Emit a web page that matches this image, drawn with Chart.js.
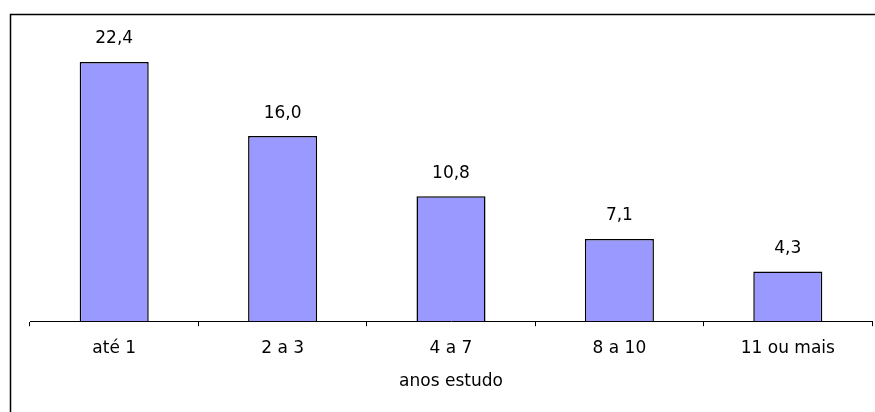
<!DOCTYPE html>
<html>
<head>
<meta charset="utf-8">
<script src="https://cdn.jsdelivr.net/npm/chart.js@4"></script>
<style>
  html, body { margin: 0; padding: 0; background: #fff; }
  #wrap { width: 875px; height: 412px; position: relative; }
</style>
</head>
<body>
<div id="wrap"><canvas id="grafico"></canvas></div>
<script>
const categorias = ["até 1", "2 a 3", "4 a 7", "8 a 10", "11 ou mais"];
const valores = [22.4, 16.0, 10.8, 7.1, 4.3];
const tituloEixo = "anos estudo";

const fonte = "'DejaVu Sans', sans-serif";

// moldura: linha superior e linha esquerda
const moldura = {
  id: "moldura",
  beforeDraw(chart) {
    const c = chart.ctx;
    c.save();
    c.strokeStyle = "#000";
    c.lineWidth = 1.5;
    c.beginPath();
    c.moveTo(10.5, chart.height);
    c.lineTo(10.5, 14.5);
    c.lineTo(chart.width, 14.5);
    c.stroke();
    c.restore();
  }
};

// valores por cima das barras, com virgula decimal
const rotulos = {
  id: "rotulos",
  afterDatasetsDraw(chart) {
    const c = chart.ctx;
    const meta = chart.getDatasetMeta(0);
    c.save();
    c.fillStyle = "#000";
    c.font = "17px " + fonte;
    c.textAlign = "center";
    c.textBaseline = "middle";
    meta.data.forEach((bar, i) => {
      const txt = valores[i].toFixed(1).replace(".", ",");
      c.fillText(txt, bar.x, bar.y - 23);
    });
    c.restore();
  }
};

new Chart(document.getElementById("grafico"), {
  type: "bar",
  data: {
    labels: categorias,
    datasets: [{
      data: valores,
      backgroundColor: "#9999ff",
      borderColor: "#000",
      borderWidth: 1.5,
      categoryPercentage: 0.41,
      barPercentage: 1
    }]
  },
  options: {
    responsive: true,
    maintainAspectRatio: false,
    animation: false,
    layout: { padding: { left: 30, right: 3, top: 32, bottom: 20 } },
    plugins: {
      legend: { display: false },
      tooltip: { enabled: false }
    },
    scales: {
      x: {
        grid: {
          offset: true,
          drawOnChartArea: false,
          drawTicks: true,
          tickLength: 5,
          color: "#000",
          lineWidth: 1
        },
        border: { display: true, color: "#000", width: 1 },
        ticks: {
          color: "#000",
          font: { family: fonte, size: 17 },
          padding: 12,
          maxRotation: 0
        },
        title: {
          display: true,
          text: tituloEixo,
          color: "#000",
          font: { family: fonte, size: 17 },
          padding: { top: 1, bottom: 0 }
        }
      },
      y: {
        display: false,
        min: 0,
        max: 25
      }
    }
  },
  plugins: [moldura, rotulos]
});
</script>
</body>
</html>
